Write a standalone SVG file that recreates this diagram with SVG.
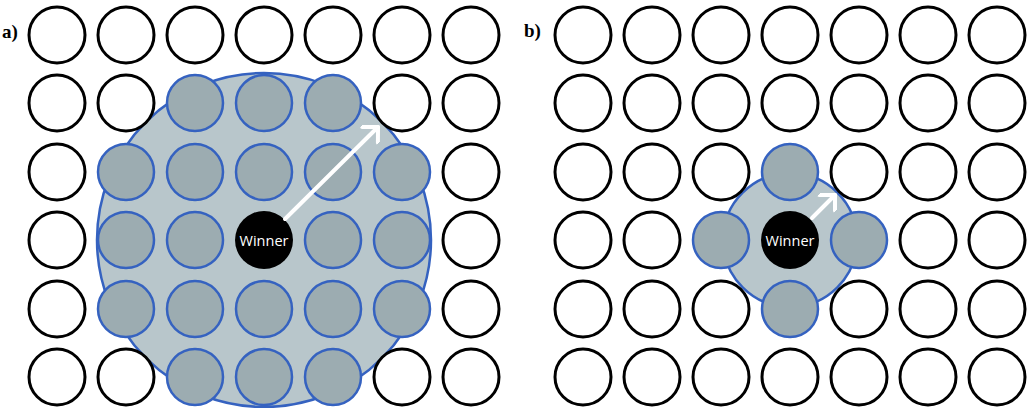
<svg xmlns="http://www.w3.org/2000/svg" width="1027" height="408" viewBox="0 0 1027 408">
<style>
.w{fill:#fff;stroke:#000;stroke-width:3}
.g{fill:#9cacb1;stroke:#3562c0;stroke-width:2.5}
.big{fill:#b8c6cb;stroke:#3562c0;stroke-width:2.5}
.win{fill:#000}
.wt{fill:#fff;font-family:"Open Sans","Liberation Sans",sans-serif;font-size:14.5px;text-anchor:middle}
.lab{font-family:"Liberation Serif",serif;font-weight:bold;font-size:19px;fill:#000}
.arr{stroke:#fff;stroke-width:4;fill:none;stroke-linecap:round;stroke-linejoin:round}
</style>
<defs>
<marker id="ah" markerWidth="6" markerHeight="6" refX="4" refY="3" orient="auto" markerUnits="strokeWidth">
<polyline points="1.2,0.2 4,3 1.2,5.8" fill="none" stroke="#fff" stroke-width="1" stroke-linecap="round" stroke-linejoin="round"/>
</marker>
</defs>
<rect width="1027" height="408" fill="#fff"/>
<text class="lab" x="2" y="38">a)</text>
<text class="lab" x="524" y="37">b)</text>
<g id="panel-a">
<circle id="a-neighbourhood" class="big" cx="264" cy="240" r="167"/>
<g id="a-row0">
<circle class="w" cx="57" cy="35" r="28"/><circle class="w" cx="126" cy="35" r="28"/><circle class="w" cx="195" cy="35" r="28"/><circle class="w" cx="264" cy="35" r="28"/><circle class="w" cx="333" cy="35" r="28"/><circle class="w" cx="402" cy="35" r="28"/><circle class="w" cx="471" cy="35" r="28"/>
</g>
<g id="a-row1">
<circle class="w" cx="57" cy="103" r="28"/><circle class="w" cx="126" cy="103" r="28"/><circle class="g" cx="195" cy="103" r="28"/><circle class="g" cx="264" cy="103" r="28"/><circle class="g" cx="333" cy="103" r="28"/><circle class="w" cx="402" cy="103" r="28"/><circle class="w" cx="471" cy="103" r="28"/>
</g>
<g id="a-row2">
<circle class="w" cx="57" cy="172" r="28"/><circle class="g" cx="126" cy="172" r="28"/><circle class="g" cx="195" cy="172" r="28"/><circle class="g" cx="264" cy="172" r="28"/><circle class="g" cx="333" cy="172" r="28"/><circle class="g" cx="402" cy="172" r="28"/><circle class="w" cx="471" cy="172" r="28"/>
</g>
<g id="a-row3">
<circle class="w" cx="57" cy="240" r="28"/><circle class="g" cx="126" cy="240" r="28"/><circle class="g" cx="195" cy="240" r="28"/><circle class="g" cx="333" cy="240" r="28"/><circle class="g" cx="402" cy="240" r="28"/><circle class="w" cx="471" cy="240" r="28"/>
</g>
<g id="a-row4">
<circle class="w" cx="57" cy="309" r="28"/><circle class="g" cx="126" cy="309" r="28"/><circle class="g" cx="195" cy="309" r="28"/><circle class="g" cx="264" cy="309" r="28"/><circle class="g" cx="333" cy="309" r="28"/><circle class="g" cx="402" cy="309" r="28"/><circle class="w" cx="471" cy="309" r="28"/>
</g>
<g id="a-row5">
<circle class="w" cx="57" cy="377" r="28"/><circle class="w" cx="126" cy="377" r="28"/><circle class="g" cx="195" cy="377" r="28"/><circle class="g" cx="264" cy="377" r="28"/><circle class="g" cx="333" cy="377" r="28"/><circle class="w" cx="402" cy="377" r="28"/><circle class="w" cx="471" cy="377" r="28"/>
</g>
<g id="a-winner">
<circle class="win" cx="264" cy="240" r="29"/>
<text class="wt" x="264" y="246">Winner</text>
</g>
</g>
<g id="panel-b">
<circle id="b-neighbourhood" class="big" cx="790" cy="240" r="67"/>
<g id="b-row0">
<circle class="w" cx="583" cy="35" r="28"/><circle class="w" cx="652" cy="35" r="28"/><circle class="w" cx="721" cy="35" r="28"/><circle class="w" cx="790" cy="35" r="28"/><circle class="w" cx="859" cy="35" r="28"/><circle class="w" cx="928" cy="35" r="28"/><circle class="w" cx="997" cy="35" r="28"/>
</g>
<g id="b-row1">
<circle class="w" cx="583" cy="103" r="28"/><circle class="w" cx="652" cy="103" r="28"/><circle class="w" cx="721" cy="103" r="28"/><circle class="w" cx="790" cy="103" r="28"/><circle class="w" cx="859" cy="103" r="28"/><circle class="w" cx="928" cy="103" r="28"/><circle class="w" cx="997" cy="103" r="28"/>
</g>
<g id="b-row2">
<circle class="w" cx="583" cy="172" r="28"/><circle class="w" cx="652" cy="172" r="28"/><circle class="w" cx="721" cy="172" r="28"/><circle class="g" cx="790" cy="172" r="28"/><circle class="w" cx="859" cy="172" r="28"/><circle class="w" cx="928" cy="172" r="28"/><circle class="w" cx="997" cy="172" r="28"/>
</g>
<g id="b-row3">
<circle class="w" cx="583" cy="240" r="28"/><circle class="w" cx="652" cy="240" r="28"/><circle class="g" cx="721" cy="240" r="28"/><circle class="g" cx="859" cy="240" r="28"/><circle class="w" cx="928" cy="240" r="28"/><circle class="w" cx="997" cy="240" r="28"/>
</g>
<g id="b-row4">
<circle class="w" cx="583" cy="309" r="28"/><circle class="w" cx="652" cy="309" r="28"/><circle class="w" cx="721" cy="309" r="28"/><circle class="g" cx="790" cy="309" r="28"/><circle class="w" cx="859" cy="309" r="28"/><circle class="w" cx="928" cy="309" r="28"/><circle class="w" cx="997" cy="309" r="28"/>
</g>
<g id="b-row5">
<circle class="w" cx="583" cy="377" r="28"/><circle class="w" cx="652" cy="377" r="28"/><circle class="w" cx="721" cy="377" r="28"/><circle class="w" cx="790" cy="377" r="28"/><circle class="w" cx="859" cy="377" r="28"/><circle class="w" cx="928" cy="377" r="28"/><circle class="w" cx="997" cy="377" r="28"/>
</g>
<g id="b-winner">
<circle class="win" cx="790" cy="240" r="29"/>
<text class="wt" x="790" y="246">Winner</text>
</g>
</g>
<g id="connectors">
<line class="arr" x1="285" y1="219" x2="378" y2="127" marker-end="url(#ah)"/>
<line class="arr" x1="812" y1="218" x2="835" y2="195" marker-end="url(#ah)"/>
</g>
</svg>
